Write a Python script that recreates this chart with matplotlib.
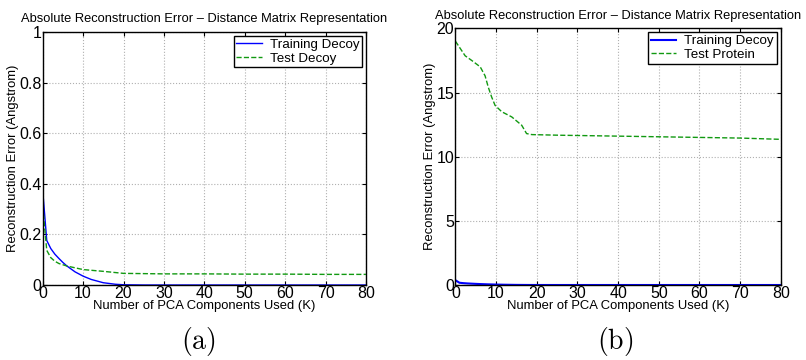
import numpy as np
import matplotlib
matplotlib.use("Agg")
import matplotlib.pyplot as plt

plt.rcParams['font.family'] = ['Liberation Sans', 'DejaVu Sans']
plt.rcParams['mathtext.fontset'] = 'cm'

#%% data
k_train = [0, 1, 2, 3, 4, 5, 6, 8, 10, 12, 15, 18, 20, 25, 30, 40, 50, 60, 70, 80]
train_decoy = [0.373, 0.176, 0.144, 0.122, 0.105, 0.089, 0.075, 0.052, 0.035, 0.022,
               0.009, 0.003, 0.001, 0.0, 0.0, 0.0, 0.0, 0.0, 0.0, 0.0]

k_test_a = [0, 1, 2, 3, 4, 6, 10, 15, 20, 30, 40, 50, 60, 70, 80]
test_decoy = [0.31, 0.137, 0.108, 0.094, 0.085, 0.075, 0.061, 0.054, 0.046, 0.044,
              0.044, 0.043, 0.043, 0.042, 0.042]

k_test_b = [0, 2.4, 4, 6.1, 7.3, 8.1, 8.9, 9.75, 11.4, 13.85, 16.3, 17.5, 18.8, 25.7,
            30, 40, 50, 60, 70, 80]
test_protein = [19.0, 17.86, 17.5, 17.0, 16.3, 15.4, 14.66, 14.0, 13.5, 13.1, 12.45,
                11.8, 11.72, 11.67, 11.65, 11.6, 11.55, 11.5, 11.45, 11.35]

x_ticks = [0, 10, 20, 30, 40, 50, 60, 70, 80]
y_ticks_a = [0, 0.2, 0.4, 0.6, 0.8, 1]
y_labels_a = ['0', '0.2', '0.4', '0.6', '0.8', '1']
y_ticks_b = [0, 5, 10, 15, 20]

title = 'Absolute Reconstruction Error \u2013 Distance Matrix Representation'

fig = plt.figure(figsize=(8.06, 3.6), dpi=100)
ax1 = fig.add_axes([0.053, 0.2083, 0.401, 0.703])
ax2 = fig.add_axes([0.565, 0.2083, 0.4037, 0.713])


def style(ax, yt, yl, ymax):
    ax.set_xlim(0, 80)
    ax.set_ylim(0, ymax)
    ax.set_xticks(x_ticks)
    ax.set_xticklabels([str(t) for t in x_ticks])
    ax.set_yticks(yt)
    ax.set_yticklabels(yl)
    ax.tick_params(direction='in', top=True, right=True, length=3, labelsize=11.5, pad=1)
    ax.grid(True, linestyle=':', color='#b0b0b0', linewidth=0.8)
    for s in ax.spines.values():
        s.set_linewidth(1.0)
    ax.set_xlabel('Number of PCA Components Used (K)', fontsize=9.4, labelpad=-1)
    ax.set_ylabel('Reconstruction Error (Angstrom)', fontsize=9.4, labelpad=0)
    ax.set_title(title, fontsize=9.3, pad=7)


leg_kw = dict(loc='upper right', fontsize=9.6, fancybox=False, edgecolor='black',
              framealpha=1, borderpad=0.2, labelspacing=0.1, handlelength=1.9,
              handletextpad=0.6, borderaxespad=0.3)

ax1.plot(k_train, train_decoy, color='blue', lw=1.0, label='Training Decoy')
ax1.plot(k_test_a, test_decoy, color='#119911', lw=1.0, ls='--', label='Test Decoy')
style(ax1, y_ticks_a, y_labels_a, 1)
ax1.legend(**leg_kw)

ax2.plot(k_train, train_decoy, color='blue', lw=1.5, label='Training Decoy')
ax2.plot(k_test_b, test_protein, color='#119911', lw=1.0, ls='--', label='Test Protein')
style(ax2, y_ticks_b, [str(t) for t in y_ticks_b], 20)
ax2.legend(**leg_kw)

fig.text(0.246, 0.05, r'$\mathrm{(a)}$', ha='center', va='center', fontsize=20)
fig.text(0.763, 0.05, r'$\mathrm{(b)}$', ha='center', va='center', fontsize=20)

fig.savefig('out.png', dpi=100)
